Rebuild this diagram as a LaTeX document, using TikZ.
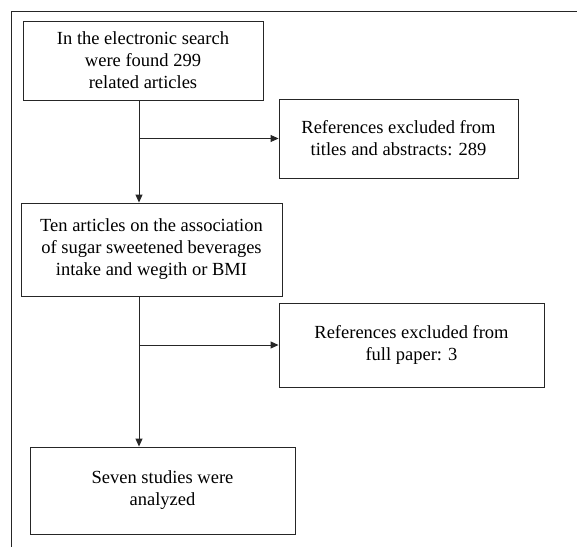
\documentclass[tikz,border=0pt]{standalone}
\usepackage{fontspec}
\setmainfont{Liberation Serif}
\usepackage{tikz}
\usetikzlibrary{positioning,arrows.meta}
\tikzset{
  box/.style={draw=black!85, line width=0.9pt, align=center, inner sep=0pt,
    font=\fontsize{18.5}{22}\selectfont},
  flow/.style={draw=black!85, line width=0.9pt, -{Triangle[length=8pt,width=7pt]}}
}

\begin{document}
\begin{tikzpicture}[x=1pt, y=-1pt]
        \useasboundingbox (0,0) rectangle (577,547);
        \draw[black!85, line width=0.9pt] (577,11) -- (11,11) -- (11,547);
        \coordinate (trunk) at (139,0);
        \node[box, minimum width=240pt, minimum height=79pt] (found) at (143,60.5)
            {In the electronic search\\were found 299\\related articles};
        \node[box, minimum width=239pt, minimum height=79pt] (excl1) at (398.5,138.5)
            {References excluded from\\titles and abstracts: 289};
        \node[box, minimum width=261pt, minimum height=93pt] (ten) at (151.5,249.5)
            {Ten articles on the association\\of sugar sweetened beverages\\intake and wegith or BMI};
        \node[box, minimum width=265pt, minimum height=84pt] (excl2) at (411.5,345)
            {References excluded from\\full paper: 3};
        \node[box, minimum width=265pt, minimum height=87pt] (seven) at (162.5,490.5)
            {Seven studies were\\analyzed};
        \draw[flow] (found.south -| trunk) -- (ten.north -| trunk);
        \draw[flow] (excl1.west -| trunk) -- (excl1.west);
        \draw[flow] (ten.south -| trunk) -- (seven.north -| trunk);
        \draw[flow] (excl2.west -| trunk) -- (excl2.west);
\end{tikzpicture}
\end{document}
